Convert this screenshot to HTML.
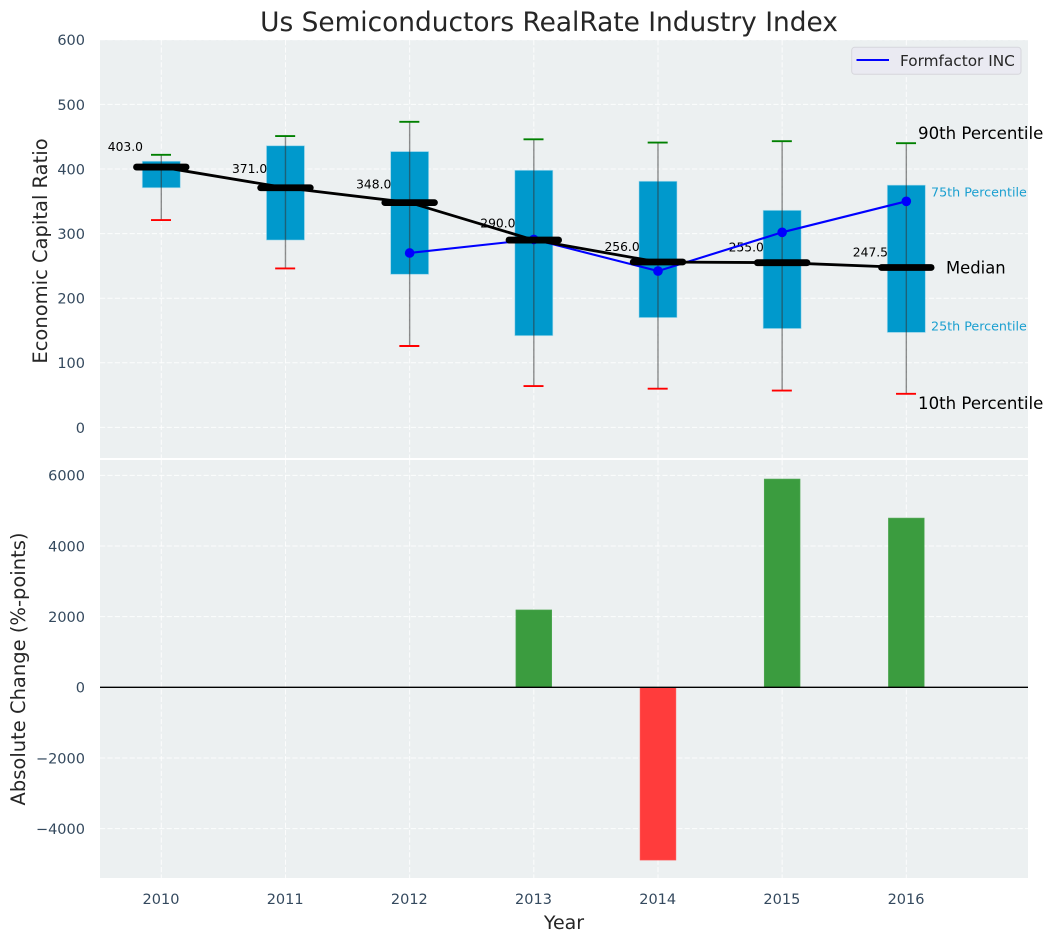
<!DOCTYPE html>
<html>
<head>
<meta charset="utf-8">
<title>Us Semiconductors RealRate Industry Index</title>
<style>
html,body{margin:0;padding:0;background:#fff;}
svg{display:block;font-family:"DejaVu Sans","Liberation Sans",sans-serif;}
</style>
</head>
<body>
<svg id="chart" xmlns="http://www.w3.org/2000/svg" width="1053" height="942" viewBox="0 0 1053 942"></svg>
<script>
const years = [2010, 2011, 2012, 2013, 2014, 2015, 2016];
const p90 = [422, 451, 473, 446, 441, 443, 440];
const p75 = [412, 436, 427, 398, 381, 336, 375];
const medians = [403, 371, 348, 290, 256, 255, 247.5];
const p25 = [371, 290, 237, 142, 170, 153, 147];
const p10 = [321, 246, 126, 64, 60, 57, 52];
const companyValues = [null, null, 270, 291, 242, 302, 350];
const changeValues = [null, null, null, 2190, -4890, 5895, 4790];
const topTicks = [0, 100, 200, 300, 400, 500, 600];
const bottomTicks = [-4000, -2000, 0, 2000, 4000, 6000];

const svg = document.getElementById('chart');
const NS = 'http://www.w3.org/2000/svg';
const X0 = 161.3, XSTEP = 124.17;
const x = v => X0 + (v - 2010) * XSTEP;
const yTop = v => 427.4 - v * 0.646;
const yBot = v => 687.3 - v * 0.03533;

function el(tag, attrs, parent) {
  const e = document.createElementNS(NS, tag);
  for (const k in attrs) e.setAttribute(k, attrs[k]);
  (parent || svg).appendChild(e);
  return e;
}
function label(str, attrs, parent) {
  const e = el('text', attrs, parent);
  e.textContent = str;
  return e;
}

/* axes backgrounds */
const topBg = el('rect', {x: 100, y: 40, width: 928, height: 418, fill: '#ecf0f1'});


const botBg = el('rect', {x: 100, y: 460, width: 928, height: 418, fill: '#ecf0f1'});



const gridStyle = {stroke: '#ffffff', 'stroke-width': 1, 'stroke-opacity': 0.85, 'stroke-dasharray': '5.2 2.2', fill: 'none'};

/* grid */
years.forEach(function (yr) {
  const g1 = el('line', Object.assign({x1: x(yr), x2: x(yr), y1: 40, y2: 458}, gridStyle));
  
  
  const g2 = el('line', Object.assign({x1: x(yr), x2: x(yr), y1: 460, y2: 878}, gridStyle));
  
  
  const t = label(String(yr), {x: x(yr) - 0.3, y: 904, 'text-anchor': 'middle', 'font-size': 14.5, fill: '#34495e'});
  
  
});
topTicks.forEach(function (v) {
  const g = el('line', Object.assign({x1: 100, x2: 1028, y1: yTop(v), y2: yTop(v)}, gridStyle));
  
  
  const t = label(String(v), {x: 85, y: yTop(v) + 5.4, 'text-anchor': 'end', 'font-size': 14.5, fill: '#34495e'});
  
  
});
bottomTicks.forEach(function (v) {
  const g = el('line', Object.assign({x1: 100, x2: 1028, y1: yBot(v), y2: yBot(v)}, gridStyle));
  
  
  const str = (v < 0 ? '\u2212' : '') + Math.abs(v);
  const t = label(str, {x: 85, y: yBot(v) + 5.4, 'text-anchor': 'end', 'font-size': 14.5, fill: '#34495e'});
  
  
});

/* boxes */
years.forEach(function (yr, i) {
  const b = el('rect', {x: x(yr) - 19, y: yTop(p75[i]), width: 38, height: yTop(p25[i]) - yTop(p75[i]), fill: '#0099cc', stroke: '#a8dcee', 'stroke-width': 0.8, 'stroke-opacity': 0.7});
  
  
});

/* median value labels (behind lines) */
years.forEach(function (yr, i) {
  const t = label(medians[i].toFixed(1), {x: x(yr) - 18.3, y: yTop(medians[i] * 1.05) - 3, 'text-anchor': 'end', 'font-size': 12.3, fill: '#000'});
  
  
});

/* whiskers */
years.forEach(function (yr, i) {
  const w = el('line', {x1: x(yr), x2: x(yr), y1: yTop(p90[i]), y2: yTop(p10[i]), stroke: '#333', 'stroke-opacity': 0.55, 'stroke-width': 1.4});
  
  
  const c1 = el('line', {x1: x(yr) - 10.3, x2: x(yr) + 9.7, y1: yTop(p90[i]), y2: yTop(p90[i]), stroke: '#008000', 'stroke-width': 1.9});
  
  
  const c2 = el('line', {x1: x(yr) - 10.3, x2: x(yr) + 9.7, y1: yTop(p10[i]), y2: yTop(p10[i]), stroke: '#ff0000', 'stroke-width': 1.9});
  
  
});

/* company series */
let companyPts = [];
years.forEach(function (yr, i) {
  if (companyValues[i] !== null) companyPts.push(x(yr) + ',' + yTop(companyValues[i]));
});
const companyLine = el('polyline', {points: companyPts.join(' '), fill: 'none', stroke: '#0000ff', 'stroke-width': 2.1});


years.forEach(function (yr, i) {
  if (companyValues[i] === null) return;
  const m = el('circle', {cx: x(yr), cy: yTop(companyValues[i]), r: 4.8, fill: '#0000ff'});
  
  
});

/* median line */
const medianLine = el('polyline', {points: years.map(function (yr, i) { return x(yr) + ',' + yTop(medians[i]); }).join(' '), fill: 'none', stroke: '#000', 'stroke-width': 2.8});


years.forEach(function (yr, i) {
  const m = el('line', {x1: x(yr) - 24.8, x2: x(yr) + 24.8, y1: yTop(medians[i]), y2: yTop(medians[i]), stroke: '#000', 'stroke-width': 6.8, 'stroke-linecap': 'round'});
  
  
});

/* change bars */
years.forEach(function (yr, i) {
  const v = changeValues[i];
  if (v === null) return;
  const top = Math.min(yBot(v), yBot(0));
  const b = el('rect', {x: x(yr) - 17.9, y: top, width: 35.8, height: Math.abs(yBot(v) - yBot(0)), fill: v >= 0 ? '#3b9c3f' : '#ff3c3c', stroke: v >= 0 ? '#55a958' : '#ff5555', 'stroke-width': 0.6});
  
  
});
const zero = el('line', {x1: 100, x2: 1028, y1: yBot(0), y2: yBot(0), stroke: '#000', 'stroke-width': 1.4});



/* percentile annotations */
const xLast = x(years[years.length - 1]);
const n = years.length - 1;
const a90 = label('90th Percentile', {x: xLast + 11.7, y: 139, 'font-size': 16.6, fill: '#000'});


const a75 = label('75th Percentile', {x: xLast + 24.7, y: 196.5, 'font-size': 12.7, fill: '#1a9fd0'});


const aMed = label('Median', {x: xLast + 39.7, y: yTop(medians[n]) + 6, 'font-size': 16.4, fill: '#000'});


const a25 = label('25th Percentile', {x: xLast + 24.7, y: 330.5, 'font-size': 12.7, fill: '#1a9fd0'});


const a10 = label('10th Percentile', {x: xLast + 11.7, y: 409, 'font-size': 16.6, fill: '#000'});



/* legend */
const legend = el('g', {});


el('rect', {x: 851.7, y: 47.3, width: 169.3, height: 27, rx: 3, ry: 3, fill: '#eaeaf2', stroke: '#d6d6dc', 'stroke-width': 1}, legend);
el('line', {x1: 856.5, x2: 889, y1: 60, y2: 60, stroke: '#0000ff', 'stroke-width': 2}, legend);
const legendText = label('Formfactor INC', {x: 900, y: 66, 'font-size': 15.3, fill: '#262626'}, legend);



/* titles */
const title = label('Us Semiconductors RealRate Industry Index', {x: 549, y: 31, 'text-anchor': 'middle', 'font-size': 26.4, fill: '#262626'});


const xTitle = label('Year', {x: 564, y: 929, 'text-anchor': 'middle', 'font-size': 19, fill: '#262626'});


const y1Title = label('Economic Capital Ratio', {x: 0, y: 0, 'text-anchor': 'middle', 'font-size': 19.5, fill: '#262626', transform: 'translate(47 251) rotate(-90)'});


const y2Title = label('Absolute Change (%-points)', {x: 0, y: 0, 'text-anchor': 'middle', 'font-size': 19.5, fill: '#262626', transform: 'translate(25 669) rotate(-90)'});


</script>
</body>
</html>
